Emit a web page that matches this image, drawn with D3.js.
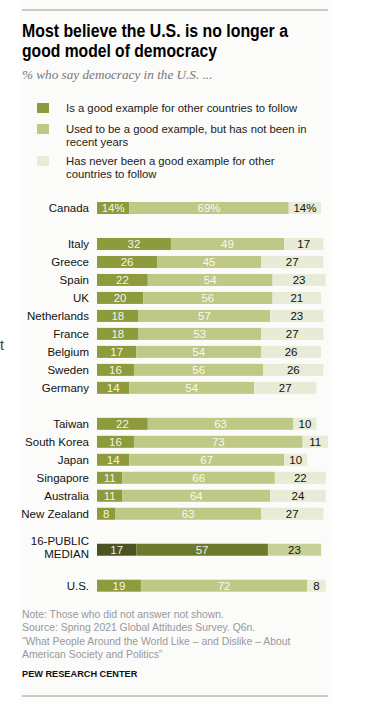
<!DOCTYPE html>
<html>
  <head>
    <meta charset="utf-8">
    <script src="https://cdn.jsdelivr.net/npm/d3@7"></script>
    <style>
      body { margin: 0; background: #fff; }
      svg { display: block; }
    </style>
  </head>
  <body>
    <script>
      // values
      const countries = ['Canada', 'Italy', 'Greece', 'Spain', 'UK', 'Netherlands', 'France', 'Belgium',
        'Sweden', 'Germany', 'Taiwan', 'South Korea', 'Japan', 'Singapore', 'Australia', 'New Zealand',
        '16-PUBLIC MEDIAN', 'U.S.']
      const good = [14, 32, 26, 22, 20, 18, 18, 17, 16, 14, 22, 16, 14, 11, 11, 8, 17, 19]
      const usedTo = [69, 49, 45, 54, 56, 57, 53, 54, 56, 54, 63, 73, 67, 66, 64, 63, 57, 72]
      const never = [14, 17, 27, 23, 21, 23, 27, 26, 26, 27, 10, 11, 10, 22, 24, 27, 23, 8]
      // row slots, blanks make the gaps between groups
      const slots = ['Canada', '', 'Italy', 'Greece', 'Spain', 'UK', 'Netherlands', 'France', 'Belgium',
        'Sweden', 'Germany', ' ', 'Taiwan', 'South Korea', 'Japan', 'Singapore', 'Australia', 'New Zealand',
        '  ', '16-PUBLIC MEDIAN', '   ', 'U.S.']
      const legendLabels = [
        ['Is a good example for other countries to follow'],
        ['Used to be a good example, but has not been in', 'recent years'],
        ['Has never been a good example for other', 'countries to follow']
      ]

      const W = 373, H = 703
      const sans = '"Liberation Sans", Arial, sans-serif'
      const colors = ['#8d9b3c', '#bfc884', '#e8ebd6']
      const medianColors = ['#4b5322', '#6c7a2b', '#c8d09a']

      const svg = d3.select('body').append('svg').attr('width', W).attr('height', H)

      svg.append('rect').attr('x', 20).attr('y', 0).attr('width', 312).attr('height', H).attr('fill', '#fbfbf9')

      svg.append('line').attr('x1', 22).attr('x2', 328).attr('y1', 10).attr('y2', 10)
        .attr('stroke', '#9a9a9a').attr('stroke-width', 1)
      svg.append('line').attr('x1', 22).attr('x2', 328).attr('y1', 696).attr('y2', 696)
        .attr('stroke', '#9a9a9a').attr('stroke-width', 1)

      // title, squeezed to the width of the condensed original face
      const title = svg.append('text').attr('font-family', sans)
        .attr('font-weight', 'bold').attr('font-size', 17.5).attr('fill', '#000')
      title.append('tspan').attr('x', 22).attr('y', 37)
        .attr('textLength', 266).attr('lengthAdjust', 'spacingAndGlyphs')
        .text('Most believe the U.S. is no longer a')
      title.append('tspan').attr('x', 22).attr('y', 57)
        .attr('textLength', 195).attr('lengthAdjust', 'spacingAndGlyphs')
        .text('good model of democracy')

      svg.append('text').attr('x', 22).attr('y', 79)
        .attr('font-family', '"Liberation Serif", "DejaVu Serif", serif').attr('font-style', 'italic')
        .attr('font-size', 13.2).attr('fill', '#777')
        .text('% who say democracy in the U.S. ...')

      // legend
      const legendY = [103, 124, 156]
      legendLabels.forEach((lines, i) => {
        svg.append('rect').attr('x', 37).attr('y', legendY[i]).attr('width', 12).attr('height', 10)
          .attr('fill', colors[i])
        const t = svg.append('text').attr('font-family', sans).attr('font-size', 11.3).attr('fill', '#222')
        lines.forEach((s, j) => {
          t.append('tspan').attr('x', 66).attr('y', legendY[i] + 8.5 + j * 13.5).text(s)
        })
      })

      // scales
      const x = d3.scaleLinear().domain([0, 100]).range([97, 328])
      const y = d3.scalePoint().domain(slots).range([208, 585.7])
      const barH = 12

      const rows = countries.map((c, i) => ({
        name: c,
        vals: [good[i], usedTo[i], never[i]],
        median: c === '16-PUBLIC MEDIAN',
        pct: c === 'Canada'
      }))

      const g = svg.append('g')
      rows.forEach(r => {
        const cy = y(r.name)
        let acc = 0
        r.vals.forEach((v, k) => {
          const x0 = x(acc), x1 = x(acc + v)
          g.append('rect').attr('x', x0).attr('y', cy - barH / 2)
            .attr('width', x1 - x0).attr('height', barH)
            .attr('fill', (r.median ? medianColors : colors)[k])
          g.append('text').attr('x', (x0 + x1) / 2).attr('y', cy + 4)
            .attr('text-anchor', 'middle').attr('font-family', sans).attr('font-size', 11.5)
            .attr('fill', k < 2 ? '#fff' : '#111')
            .attr('fill-opacity', k < 2 ? 0.92 : 1)
            .text(v + (r.pct ? '%' : ''))
          acc += v
        })
        const lab = g.append('text').attr('text-anchor', 'end').attr('font-family', sans)
          .attr('font-size', 11.5).attr('fill', '#111')
        if (r.median) {
          lab.append('tspan').attr('x', 89).attr('y', cy - 5).text('16-PUBLIC')
          lab.append('tspan').attr('x', 89).attr('y', cy + 8.5).text('MEDIAN')
        } else {
          lab.attr('x', 89).attr('y', cy + 4).text(r.name)
        }
      })

      // footer
      const notes = [
        'Note: Those who did not answer not shown.',
        'Source: Spring 2021 Global Attitudes Survey. Q6n.',
        '\u201CWhat People Around the World Like \u2013 and Dislike \u2013 About',
        'American Society and Politics\u201D'
      ]
      const foot = svg.append('text').attr('font-family', sans).attr('font-size', 10.4).attr('fill', '#999')
      notes.forEach((s, i) => {
        foot.append('tspan').attr('x', 22).attr('y', 618 + i * 13.3).text(s)
      })
      svg.append('text').attr('x', 22).attr('y', 677).attr('font-family', sans)
        .attr('font-weight', 'bold').attr('font-size', 9.2).attr('fill', '#111')
        .text('PEW RESEARCH CENTER')

      // stray letter at the left edge of the screenshot
      svg.append('text').attr('x', 0).attr('y', 350).attr('font-family', sans)
        .attr('font-size', 14).attr('fill', '#2f3b4c').text('t')
    </script>
  </body>
</html>
